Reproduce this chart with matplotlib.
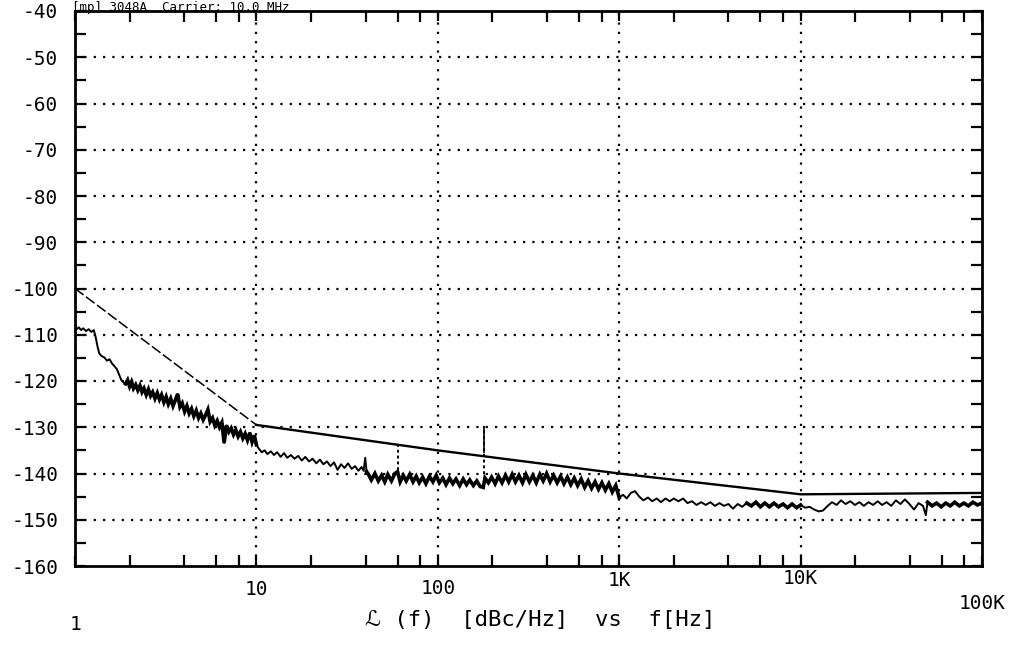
"""Phase noise plot, HP 3048A style: L(f) in dBc/Hz against offset frequency."""

import matplotlib

matplotlib.use("Agg")
import matplotlib.pyplot as plt
import matplotlib.transforms as mtransforms

MONO = ["DejaVu Sans Mono", "DejaVu Sans"]

# spec mask (straight segments in log-log)
MASK_F = [1, 10, 100, 1000, 10000, 100000]
MASK_DB = [-100.0, -129.5, -135.0, -140.0, -144.5, -144.2]

NOISE_F = [
    1.00, 1.02, 1.05, 1.08, 1.11, 1.15, 1.19, 1.23, 1.27, 1.30, 1.33, 1.36, 1.40,
    1.45, 1.50, 1.55, 1.60, 1.65, 1.70, 1.75, 1.80, 1.85,
    1.90, 1.95, 2.00, 2.05, 2.10, 2.16, 2.22, 2.28, 2.34, 2.40, 2.47, 2.54, 2.61,
    2.68, 2.76, 2.84, 2.92, 3.00, 3.09, 3.18, 3.27, 3.37, 3.47, 3.57, 3.68, 3.79,
    3.90, 4.02, 4.14, 4.26, 4.39, 4.52, 4.66, 4.80, 4.94, 5.09, 5.24, 5.40, 5.56,
    5.73, 5.90, 6.08, 6.26, 6.45, 6.64, 6.84, 7.05, 7.26, 7.48, 7.70, 7.93, 8.17,
    8.42, 8.67, 8.93, 9.20, 9.47, 9.75, 10.0,
    10.3, 10.7, 11.1, 11.5, 12.0, 12.5, 13.0, 13.6, 14.2, 14.8, 15.5, 16.2, 17.0,
    17.8, 18.6, 19.5, 20.4, 21.4, 22.4, 23.4, 24.5, 25.6, 26.8, 28.0, 29.3, 30.6,
    32.0, 33.5, 35.0, 36.5, 38.0, 39.0, 39.8, 40.5,
    41.5, 43, 45, 47, 49, 51, 53, 55.5, 58, 60, 62, 64.5, 67, 70, 73, 76, 79,
    82.5, 86, 90, 94, 98, 102, 106.5, 111, 116, 121, 126, 132, 138, 144, 150, 157,
    164, 171, 178, 182, 190, 198, 207, 216, 226, 236, 246, 257, 268, 280, 293,
    306, 320, 334, 349, 365, 381, 398, 416, 435, 455, 475, 496, 518, 541, 565,
    590, 617, 645, 674, 704, 736, 769, 803, 839, 877, 916, 957, 1000,
    1050, 1100, 1160, 1220, 1290, 1360, 1440, 1520, 1610, 1700, 1800, 1900, 2000,
    2120, 2250, 2380, 2520, 2670, 2830, 3000, 3180, 3370, 3570, 3780, 4000, 4240,
    4500, 4760, 5050, 5350, 5670, 6000, 6350, 6730, 7130, 7550, 8000, 8470, 8970,
    9500, 10000, 10600, 11200, 11900, 12600, 13300, 14100, 14900, 15800, 16700,
    17700, 18800, 19900, 21100, 22300, 23700, 25100, 26600, 28100, 29800, 31600,
    33500, 35500, 37600, 39800, 42200, 44700, 47300, 49000, 50100, 53100, 56200,
    59600, 63100, 66800, 70800, 75000, 79400, 84100, 89100, 94400, 100000,
]
NOISE_DB = [
    -107.5, -108.8, -108.4, -109.0, -108.6, -109.2, -108.8, -109.4, -109.0, -110.5,
    -112.5, -114.0, -114.6, -114.9, -115.6, -115.3, -116.2, -116.8, -117.4, -118.6,
    -119.8, -120.3,
    -120.6, -119.8, -121.2, -120.2, -121.6, -120.8, -122.0, -121.0, -122.4, -121.6,
    -123.0, -121.8, -123.2, -122.4, -123.8, -122.6, -124.0, -123.0, -124.6, -123.4,
    -125.0, -123.8, -125.4, -124.2, -122.8, -125.6, -124.8, -126.6, -125.4, -127.0,
    -126.0, -127.6, -126.4, -128.0, -127.0, -128.4, -127.4, -126.2, -128.8, -128.0,
    -129.6, -128.6, -130.0, -129.0, -133.4, -129.6, -131.0, -130.2, -131.6, -130.6,
    -132.0, -131.0, -132.4, -131.4, -132.8, -131.2, -133.2, -131.8, -133.8,
    -134.6, -135.4, -135.0, -135.8, -135.2, -136.0, -135.4, -136.4, -135.6, -136.6,
    -136.0, -136.8, -136.2, -137.2, -136.4, -137.4, -136.8, -137.8, -137.0, -138.0,
    -137.4, -138.4, -137.6, -139.2, -138.0, -138.8, -137.8, -139.0, -138.4, -139.4,
    -138.6, -139.4, -136.6, -139.6,
    -140.2, -141.4, -140.0, -141.6, -140.4, -141.8, -140.2, -141.6, -140.0, -139.6,
    -141.8, -140.4, -141.6, -140.2, -141.8, -140.6, -142.0, -140.8, -142.2, -140.6,
    -141.8, -140.4, -142.0, -141.0, -142.4, -141.0, -142.2, -141.2, -142.6, -141.2,
    -142.4, -141.4, -142.6, -141.6, -142.8, -143.0, -141.0, -142.0, -140.8, -142.2,
    -140.6, -142.0, -140.4, -141.8, -140.2, -141.8, -140.4, -142.0, -140.2, -141.8,
    -140.4, -142.0, -140.2, -141.6, -140.0, -141.8, -140.4, -142.0, -140.6, -142.2,
    -140.8, -142.4, -141.0, -142.6, -141.2, -143.0, -141.6, -143.2, -141.8, -143.4,
    -142.0, -143.6, -142.2, -144.0, -142.6, -145.2,
    -144.6, -145.4, -144.2, -143.8, -145.0, -145.8, -145.2, -146.0, -145.4, -146.2,
    -145.4, -146.0, -145.4, -146.0, -145.4, -146.4, -146.0, -146.8, -146.2, -146.8,
    -146.2, -147.0, -146.4, -147.0, -146.6, -147.6, -146.6, -147.2, -146.4, -147.0,
    -146.2, -147.2, -146.4, -147.2, -146.4, -147.2, -146.6, -147.4, -146.6, -147.4,
    -146.8, -147.4, -147.2, -147.8, -148.2, -148.0, -147.0, -146.2, -146.8, -145.8,
    -146.6, -146.0, -146.8, -146.2, -147.0, -146.2, -146.8, -146.0, -146.8, -146.2,
    -147.0, -145.8, -146.6, -145.6, -146.6, -147.8, -146.4, -147.0, -149.0, -146.2,
    -147.0, -146.4, -147.2, -146.4, -147.0, -146.2, -147.0, -146.4, -147.0, -146.2,
    -146.8, -146.4,
]

# frequency spans where the analyser trace is dense and plots as a heavy band
DENSE_SPANS = [(1.9, 10.0), (40.0, 1000.0), (5000.0, 10000.0), (50000.0, 100000.0)]

# discrete spurs (line harmonics)
SPUR_F = [60, 180]
SPUR_TOP = [-133.5, -129.8]
SPUR_BASE = [-140.5, -141.5]

YTICKS = list(range(-160, -39, 10))
YTICK_LABELS = [str(v) for v in YTICKS]
XTICKS = [1, 10, 100, 1000, 10000, 100000]
XTICK_LABELS = ["1", "10", "100", "1K", "10K", "100K"]
XLABEL = "\u2112 (f)  [dBc/Hz]  vs  f[Hz]"
HEADER = "[mp] 3048A  Carrier: 10.0 MHz"

# scanned plot is slightly skewed: label heights below the axis (axes fraction)
XTICK_LABEL_Y = [-0.106, -0.043, -0.040, -0.027, -0.022, -0.067]

W, H = 1023, 646
fig = plt.figure(figsize=(W / 100, H / 100), dpi=100, facecolor="white")
ax = fig.add_axes([75 / W, 1 - 566 / H, (982 - 75) / W, (566 - 11) / H])
ax.set_xscale("log")
ax.set_xlim(1, 1e5)
ax.set_ylim(-160, -40)

grid_style = dict(color="black", lw=1.6, ls=(0, (1, 3.2)), zorder=1)
for x in XTICKS[1:-1]:
    ax.axvline(x, **grid_style)
for y in YTICKS[1:-1]:
    ax.axhline(y, **grid_style)

ax.plot(MASK_F[:2], MASK_DB[:2], color="black", lw=1.1, ls=(0, (7, 2)), zorder=3)
ax.plot(MASK_F[1:], MASK_DB[1:], color="black", lw=1.7, zorder=3)
ax.plot(NOISE_F, NOISE_DB, color="black", lw=1.4, zorder=4)
for lo, hi in DENSE_SPANS:
    pts = [(f, d) for f, d in zip(NOISE_F, NOISE_DB) if lo <= f <= hi]
    ax.plot([p[0] for p in pts], [p[1] for p in pts], color="black", lw=2.6,
            solid_joinstyle="miter", zorder=4)
ax.vlines(SPUR_F, SPUR_BASE, SPUR_TOP, color="black", lw=1.4, ls=(0, (1.5, 1.5)), zorder=4)
ax.vlines(SPUR_F[1:], [-135.5], SPUR_TOP[1:], color="black", lw=1.2, zorder=4)

for side in ax.spines.values():
    side.set_linewidth(2.0)

ax.set_yticks(YTICKS, YTICK_LABELS, family=MONO, fontsize=14)
ax.set_yticks(list(range(-155, -40, 10)), minor=True)
ax.set_xticks(XTICKS, [""] * len(XTICKS))
ax.set_xticks([m * d for d in (1, 10, 100, 1000, 10000) for m in (2, 4, 6, 8)], minor=True)
ax.xaxis.set_minor_formatter(matplotlib.ticker.NullFormatter())
ax.tick_params(which="both", direction="in", top=True, right=True, width=1.6, color="black")
ax.tick_params(which="major", length=7, pad=12)
ax.tick_params(which="minor", length=8)

blend = mtransforms.blended_transform_factory(ax.transData, ax.transAxes)
for x, lab, y in zip(XTICKS, XTICK_LABELS, XTICK_LABEL_Y):
    ax.text(x, y, lab, transform=blend, ha="center", va="center", family=MONO, fontsize=14)

fig.text(540 / W, 1 - 620 / H, XLABEL, ha="center", va="center", family=MONO, fontsize=16)
fig.text(72 / W, 1 - 1 / H, HEADER, ha="left", va="top", family=MONO, fontsize=9)

fig.savefig("out.png", dpi=100, facecolor="white")
